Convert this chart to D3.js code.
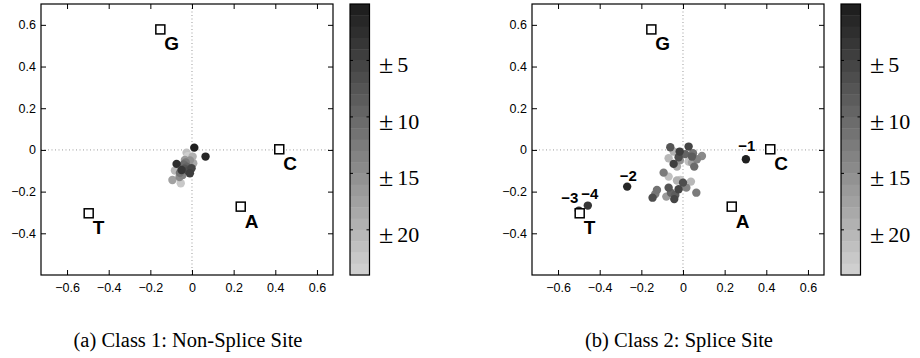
<!DOCTYPE html>
<html>
<head>
<meta charset="utf-8">
<script src="https://cdn.jsdelivr.net/npm/d3@7"></script>
<style>
  body { margin: 0; background: #fff; }
  svg { display: block; }
</style>
</head>
<body>
<div id="chart"></div>
<script>
// nucleotide anchor positions
const bases = ['A', 'C', 'G', 'T'];
const baseX = [0.234, 0.419, -0.152, -0.496];
const baseY = [-0.272, 0.003, 0.578, -0.304];

// [x, y, distance from site]
const nonSplicePts = [
  [-0.054, -0.160, 23], [-0.094, -0.144, 18], [-0.082, -0.099, 21], [-0.026, -0.013, 22],
  [-0.020, -0.030, 24], [0.003, -0.032, 20], [0.006, -0.064, 19], [-0.034, -0.048, 17],
  [-0.010, -0.050, 16], [-0.060, -0.130, 15], [-0.045, -0.120, 14], [-0.030, -0.060, 13],
  [-0.058, -0.110, 12], [-0.040, -0.070, 11], [-0.026, -0.080, 10], [-0.035, -0.090, 8],
  [-0.020, -0.100, 7], [-0.002, -0.088, 6], [-0.010, -0.112, 5], [-0.050, -0.096, 4],
  [-0.074, -0.067, 3], [0.065, -0.032, 2], [0.011, 0.011, 1]
];

const splicePts = [
  [0.030, -0.035, 24], [-0.013, -0.144, 23], [0.027, -0.056, 22], [-0.069, -0.128, 22],
  [-0.069, -0.040, 21], [0.038, -0.152, 21], [-0.045, -0.008, 20], [-0.029, -0.147, 20],
  [-0.029, -0.080, 19], [0.043, -0.061, 18], [-0.080, -0.224, 17], [-0.015, -0.050, 16],
  [0.091, -0.029, 15], [0.067, -0.045, 14], [0.016, -0.181, 14], [-0.093, -0.109, 13],
  [-0.133, -0.211, 13], [0.064, -0.205, 13], [0.048, -0.016, 12], [-0.125, -0.192, 12],
  [0.054, -0.080, 11], [0.010, -0.020, 10], [-0.058, -0.205, 10], [0.043, -0.032, 9],
  [-0.037, -0.216, 9], [-0.061, 0.013, 8], [-0.069, -0.181, 8], [-0.021, -0.035, 7],
  [0.000, -0.157, 7], [-0.146, -0.229, 7], [0.027, 0.016, 6], [-0.021, -0.189, 6],
  [-0.042, -0.236, 6], [-0.016, -0.008, 5], [-0.045, -0.067, 5],
  [-0.457, -0.267, 4], [-0.500, -0.291, 3], [-0.268, -0.176, 2], [0.302, -0.045, 1]
];

// labelled positions in the splice panel
const siteLabels = ['−1', '−2', '−3', '−4'];
const siteLabelX = [0.302, -0.268, -0.500, -0.457];
const siteLabelY = [-0.045, -0.176, -0.291, -0.267];

const xTicks = [-0.6, -0.4, -0.2, 0, 0.2, 0.4, 0.6];
const yTicks = [-0.4, -0.2, 0, 0.2, 0.4, 0.6];
const barTicks = [5, 10, 15, 20];
const captions = ['(a)  Class 1: Non-Splice Site', '(b)  Class 2: Splice Site'];

const width = 920, height = 358;
const svg = d3.select('#chart').append('svg')
  .attr('width', width)
  .attr('height', height);

const nBands = 24;
const gray = d3.scaleLinear().domain([0, nBands]).range(['#1b1b1b', '#d3d3d3']);
const bandColor = v => gray(Math.floor(v) + 0.5);

function panel(ox, pts, caption, labels) {
  const g = svg.append('g').attr('transform', `translate(${ox},0)`);
  const x = d3.scaleLinear().domain([-0.725, 0.677]).range([41, 333]);
  const y = d3.scaleLinear().domain([-0.6, 0.7]).range([275, 4]);

  // dotted zero lines
  g.append('line')
    .attr('x1', x(-0.725)).attr('x2', x(0.677)).attr('y1', y(0)).attr('y2', y(0))
    .attr('stroke', '#9a9a9a').attr('stroke-dasharray', '1,2.5');
  g.append('line')
    .attr('x1', x(0)).attr('x2', x(0)).attr('y1', y(-0.6)).attr('y2', y(0.7))
    .attr('stroke', '#9a9a9a').attr('stroke-dasharray', '1,2.5');

  const fmt = d => d === 0 ? '0' : d3.format('.1f')(d);

  const ax = g.append('g').attr('transform', `translate(0,${y(-0.6)})`)
    .call(d3.axisBottom(x).tickValues(xTicks).tickSizeInner(-5).tickSizeOuter(0).tickPadding(8)
      .tickFormat(fmt));
  const ay = g.append('g').attr('transform', `translate(${x(-0.725)},0)`)
    .call(d3.axisLeft(y).tickValues(yTicks).tickSizeInner(-5).tickSizeOuter(0).tickPadding(5)
      .tickFormat(fmt));
  const at = g.append('g').attr('transform', `translate(0,${y(0.7)})`)
    .call(d3.axisTop(x).tickValues(xTicks).tickSizeInner(-5).tickSizeOuter(0).tickFormat(''));
  const ar = g.append('g').attr('transform', `translate(${x(0.677)},0)`)
    .call(d3.axisRight(y).tickValues(yTicks).tickSizeInner(-5).tickSizeOuter(0).tickFormat(''));
  [ax, ay, at, ar].forEach(a => {
    a.select('.domain').remove();
    a.selectAll('text').attr('font-family', 'Liberation Sans, Arial, sans-serif')
      .attr('font-size', 12.5).attr('fill', '#000');
  });

  g.append('rect')
    .attr('x', x(-0.725)).attr('y', y(0.7))
    .attr('width', x(0.677) - x(-0.725)).attr('height', y(-0.6) - y(0.7))
    .attr('fill', 'none').attr('stroke', '#000').attr('stroke-width', 1.2);

  // points
  g.append('g').selectAll('circle')
    .data(pts)
    .join('circle')
    .attr('cx', d => x(d[0]))
    .attr('cy', d => y(d[1]))
    .attr('r', 4.2)
    .attr('fill', d => bandColor(d[2] - 1));

  // base anchors
  g.append('g').selectAll('rect')
    .data(bases)
    .join('rect')
    .attr('x', (d, i) => x(baseX[i]) - 4.5)
    .attr('y', (d, i) => y(baseY[i]) - 4.5)
    .attr('width', 9).attr('height', 9)
    .attr('fill', '#fff').attr('stroke', '#000').attr('stroke-width', 1.5);
  g.append('g').selectAll('text')
    .data(bases)
    .join('text')
    .attr('x', (d, i) => x(baseX[i]) + 4)
    .attr('y', (d, i) => y(baseY[i]) + 21)
    .attr('font-family', 'Liberation Sans, Arial, sans-serif')
    .attr('font-weight', 'bold')
    .attr('font-size', 19)
    .text(d => d);

  if (labels) {
    const shift = [[1, -8], [1, -6], [-9, -8], [2, -7]];
    g.append('g').selectAll('text')
      .data(siteLabels)
      .join('text')
      .attr('x', (d, i) => x(siteLabelX[i]) + shift[i][0])
      .attr('y', (d, i) => y(siteLabelY[i]) + shift[i][1])
      .attr('text-anchor', 'middle')
      .attr('font-family', 'Liberation Sans, Arial, sans-serif')
      .attr('font-weight', 'bold')
      .attr('font-size', 15)
      .text(d => d);
  }

  // colour bar
  const cb = d3.scaleLinear().domain([0, nBands]).range([4, 275]);
  const cbx = 350, cbw = 19.5;
  g.append('g').selectAll('rect')
    .data(d3.range(nBands))
    .join('rect')
    .attr('x', cbx)
    .attr('y', d => cb(d))
    .attr('width', cbw)
    .attr('height', cb(1) - cb(0) + 0.5)
    .attr('fill', d => bandColor(d));
  g.append('rect')
    .attr('x', cbx).attr('y', cb(0)).attr('width', cbw).attr('height', cb(nBands) - cb(0))
    .attr('fill', 'none').attr('stroke', '#000').attr('stroke-width', 1.2);
  g.append('g').selectAll('path')
    .data(barTicks)
    .join('path')
    .attr('d', d => `M${cbx},${cb(d)}h3M${cbx + cbw},${cb(d)}h-3`)
    .attr('stroke', '#000');
  const lbl = g.append('g').selectAll('text')
    .data(barTicks)
    .join('text')
    .attr('x', cbx + 29)
    .attr('y', d => cb(d) + 12)
    .attr('font-family', 'Liberation Serif, serif')
    .attr('font-size', 22);
  lbl.append('tspan').attr('font-size', 26).attr('dy', 1).text('±');
  lbl.append('tspan').attr('dx', 4).attr('dy', -1).text(d => d);

  g.append('text')
    .attr('x', 188)
    .attr('y', 347)
    .attr('text-anchor', 'middle')
    .attr('font-family', 'Liberation Serif, serif')
    .attr('font-size', 20.5)
    .text(caption);
}

panel(0, nonSplicePts, captions[0], false);
panel(491, splicePts, captions[1], true);
</script>
</body>
</html>
